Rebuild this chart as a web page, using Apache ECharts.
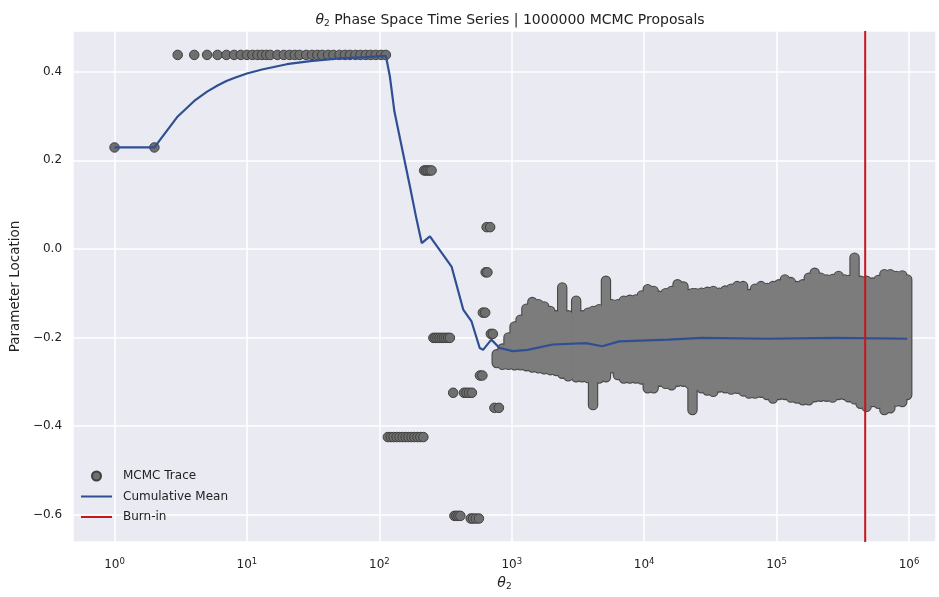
<!DOCTYPE html>
<html><head><meta charset="utf-8">
<script src="https://cdn.jsdelivr.net/npm/echarts@6/dist/echarts.min.js"></script>
<style>html,body{margin:0;padding:0;background:#fff}#c{width:939px;height:597px}</style>
</head><body><div id="c"></div>
<script>
// ---- data ----
const xTickExponents = [0, 1, 2, 3, 4, 5, 6];
const yTickValues = [-0.6, -0.4, -0.2, 0.0, 0.2, 0.4];

// discrete early MCMC trace samples (iteration, value)
const traceX = [1, 2,
  3, 4, 5, 6, 7, 8, 9, 10, 11, 12, 13, 14, 15, 17, 19, 21, 23, 25, 28, 31, 34, 37, 41, 45, 50, 55, 60, 66, 72, 79, 86, 94, 103, 112,
  116, 122, 128, 135, 142, 150, 158, 166, 175, 184, 194, 204, 215,
  218, 225, 232, 240, 248,
  256, 265, 275, 285, 296, 307, 318, 330, 341,
  361,
  369, 382, 395, 409,
  436, 455, 475, 500,
  490, 510, 535, 565,
  575, 600, 605, 630, 635, 655, 646, 687, 695, 720, 740, 800];
const traceY = [0.229, 0.229,
  0.438, 0.438, 0.438, 0.438, 0.438, 0.438, 0.438, 0.438, 0.438, 0.438, 0.438, 0.438, 0.438, 0.438, 0.438, 0.438, 0.438, 0.438, 0.438, 0.438, 0.438, 0.438, 0.438, 0.438, 0.438, 0.438, 0.438, 0.438, 0.438, 0.438, 0.438, 0.438, 0.438, 0.438,
  -0.425, -0.425, -0.425, -0.425, -0.425, -0.425, -0.425, -0.425, -0.425, -0.425, -0.425, -0.425, -0.425,
  0.177, 0.177, 0.177, 0.177, 0.177,
  -0.201, -0.201, -0.201, -0.201, -0.201, -0.201, -0.201, -0.201, -0.201,
  -0.325,
  -0.603, -0.603, -0.603, -0.603,
  -0.325, -0.325, -0.325, -0.325,
  -0.609, -0.609, -0.609, -0.609,
  -0.286, -0.286, -0.144, -0.144, -0.053, -0.053, 0.049, 0.049, -0.192, -0.192, -0.359, -0.359];

// dense part of the trace: per-iteration extreme sample values (envelope of the cloud)
const cloudX = [770, 850, 945, 1050, 1165, 1290, 1430, 1590, 1760, 1955,
  2170, 2405, 2670, 3065, 3400, 3770, 4110, 4560, 5145, 5705,
  6330, 7020, 7790, 8640, 9590, 10640, 11800, 13090, 14520, 16110,
  17870, 19820, 21990, 23170, 24390, 27060, 30010, 33290, 36930, 40970,
  45450, 50420, 55930, 62040, 68820, 76350, 84700, 93960, 104200, 115600,
  128300, 142300, 157800, 175100, 194200, 215500, 239000, 265100, 294100, 326300,
  349900, 388100, 430500, 477500, 529700, 587600, 651900, 723200, 802200, 889900,
  970000];
const cloudHi = [-0.238, -0.225, -0.200, -0.175, -0.160, -0.135, -0.120, -0.125, -0.130, -0.140,
  -0.150, -0.087, -0.150, -0.117, -0.150, -0.144, -0.140, -0.136, -0.072, -0.125,
  -0.125, -0.117, -0.115, -0.114, -0.105, -0.091, -0.095, -0.106, -0.100, -0.095,
  -0.080, -0.085, -0.102, -0.100, -0.100, -0.099, -0.097, -0.095, -0.099, -0.094,
  -0.090, -0.084, -0.084, -0.102, -0.090, -0.084, -0.088, -0.084, -0.080, -0.069,
  -0.075, -0.084, -0.080, -0.065, -0.054, -0.065, -0.069, -0.068, -0.061, -0.069,
  -0.070, -0.020, -0.072, -0.072, -0.076, -0.070, -0.057, -0.057, -0.061, -0.060,
  -0.069];
const cloudLo = [-0.258, -0.262, -0.262, -0.263, -0.263, -0.265, -0.268, -0.270, -0.272, -0.274,
  -0.276, -0.282, -0.288, -0.290, -0.290, -0.292, -0.353, -0.293, -0.290, -0.270,
  -0.285, -0.293, -0.293, -0.293, -0.295, -0.315, -0.315, -0.300, -0.305, -0.308,
  -0.300, -0.300, -0.305, -0.364, -0.310, -0.315, -0.320, -0.323, -0.313, -0.315,
  -0.318, -0.316, -0.322, -0.327, -0.327, -0.325, -0.330, -0.338, -0.330, -0.330,
  -0.336, -0.338, -0.342, -0.342, -0.335, -0.334, -0.334, -0.336, -0.330, -0.330,
  -0.335, -0.340, -0.350, -0.357, -0.346, -0.350, -0.364, -0.360, -0.345, -0.346,
  -0.330];

// cumulative mean
const meanX = [1, 2, 3, 4, 5, 6, 7, 8, 10, 13, 20, 30, 50, 80, 112, 120, 130, 144, 171, 190, 209, 241, 351, 430, 497, 573, 607, 701, 809, 1019, 1320, 2040, 3630, 4830, 6460, 15300, 27200, 86300, 273000, 970000];
const meanY = [0.229, 0.229, 0.299, 0.334, 0.355, 0.369, 0.379, 0.386, 0.396, 0.405, 0.417, 0.424, 0.430, 0.433, 0.436, 0.39, 0.31, 0.246, 0.138, 0.07, 0.013, 0.028, -0.04, -0.137, -0.164, -0.224, -0.228, -0.205, -0.224, -0.231, -0.228, -0.216, -0.213, -0.22, -0.209, -0.205, -0.201, -0.203, -0.201, -0.203];

// burn-in position
const burnIn = 467000;

// axis extents
const xMin = 0.486, xMax = 1.6e6;
const yMin = -0.662, yMax = 0.492;

// ---- chart ----
const FONT = 'DejaVu Sans';
const traceData = traceX.map((x, i) => [x, traceY[i]]);
const cloudData = cloudX.map((x, i) => [x, cloudHi[i], cloudLo[i]]);
const meanData = meanX.map((x, i) => [x, meanY[i]]);
const burnData = [[burnIn, yMin], [burnIn, yMax]];

function capsule(r, color) {
  return function (params, api) {
    const x = api.value(0), hi = api.value(1), lo = api.value(2);
    const p1 = api.coord([x, hi]);
    const p2 = api.coord([x, lo]);
    return {
      type: 'rect',
      shape: { x: p1[0] - r, y: p1[1] - r, width: 2 * r, height: (p2[1] - p1[1]) + 2 * r, r: r },
      style: { fill: color }
    };
  };
}

const chart = echarts.init(document.getElementById('c'), null, { renderer: 'canvas' });
chart.setOption({
  backgroundColor: '#ffffff',
  animation: false,
  textStyle: { fontFamily: FONT },
  title: {
    text: '{t|θ}{s|2}{n| Phase Space Time Series | 1000000 MCMC Proposals}',
    left: 505, top: 7, textAlign: 'center',
    textStyle: {
      fontWeight: 'normal',
      rich: {
        t: { fontFamily: FONT, fontSize: 14, fontStyle: 'italic', fontWeight: 'normal', color: '#222' },
        s: { fontFamily: FONT, fontSize: 9, fontWeight: 'normal', color: '#222', padding: [7, 0, 0, 0] },
        n: { fontFamily: FONT, fontSize: 14, fontWeight: 'normal', color: '#222' }
      }
    }
  },
  grid: { left: 71, right: 0, top: 31, bottom: 55, show: true, backgroundColor: '#EAEAF2', borderWidth: 0 },
  legend: {
    orient: 'vertical', left: 75, top: 465,
    itemWidth: 31, itemHeight: 9, itemGap: 8.5,
    data: [
      { name: 'MCMC Trace', icon: 'circle' },
      { name: 'Cumulative Mean', itemStyle: { opacity: 0 } },
      { name: 'Burn-in', itemStyle: { opacity: 0 } }
    ],
    textStyle: { fontFamily: FONT, fontSize: 12, color: '#222', padding: [0, 0, 0, 6] }
  },
  xAxis: {
    type: 'log', logBase: 10, min: xMin, max: xMax,
    name: '{t|θ}{s|2}', nameLocation: 'middle', nameGap: 30,
    nameTextStyle: {
      rich: {
        t: { fontFamily: FONT, fontSize: 14, fontStyle: 'italic', color: '#222' },
        s: { fontFamily: FONT, fontSize: 9, color: '#222', padding: [7, 0, 0, 0] }
      }
    },
    axisLine: { show: false }, axisTick: { show: false },
    splitLine: { show: true, lineStyle: { color: '#ffffff', width: 1.5 } },
    axisLabel: {
      margin: 15, color: '#222',
      formatter: function (v) {
        const e = Math.log10(v);
        const r = Math.round(e);
        if (Math.abs(e - r) > 1e-6 || xTickExponents.indexOf(r) < 0) return '';
        return '{b|10}{e|' + r + '}';
      },
      rich: {
        b: { fontFamily: FONT, fontSize: 12, color: '#222' },
        e: { fontFamily: FONT, fontSize: 8.5, color: '#222', padding: [0, 0, 7, 0] }
      }
    }
  },
  yAxis: {
    type: 'value', min: yMin, max: yMax,
    name: 'Parameter Location', nameLocation: 'middle', nameGap: 47,
    nameTextStyle: { fontFamily: FONT, fontSize: 13.5, color: '#222' },
    axisLine: { show: false }, axisTick: { show: false },
    splitLine: { show: true, lineStyle: { color: '#ffffff', width: 1.5 } },
    axisLabel: {
      margin: 11, color: '#222', fontFamily: FONT, fontSize: 12,
      formatter: function (v) {
        const r = Math.round(v * 10) / 10;
        for (const t of yTickValues) {
          if (Math.abs(v - t) < 1e-6) return r.toFixed(1).replace('-', '\u2212');
        }
        return '';
      }
    }
  },
  series: [
    {
      name: 'cloudEdge', type: 'custom', renderItem: capsule(5.2, '#474747'),
      data: cloudData, encode: { x: 0, y: [1, 2] }, z: 2, silent: true, clip: true
    },
    {
      name: 'cloudFill', type: 'custom', renderItem: capsule(4.1, '#7c7c7c'),
      data: cloudData, encode: { x: 0, y: [1, 2] }, z: 3, silent: true, clip: true
    },
    {
      name: 'MCMC Trace', type: 'scatter', data: traceData, symbolSize: 9.5, z: 4,
      itemStyle: { color: '#6f6f6f', borderColor: '#3f3f3f', borderWidth: 1, opacity: 1 }
    },
    {
      name: 'Cumulative Mean', type: 'line', data: meanData, symbol: 'none', smooth: false, z: 5,
      lineStyle: { color: '#2f4f93', width: 2.2 }, itemStyle: { color: '#2f4f93' }
    },
    {
      name: 'Burn-in', type: 'line', data: burnData, symbol: 'none', z: 6,
      lineStyle: { color: '#c8161b', width: 2 }, itemStyle: { color: '#c8161b' }
    }
  ]
});
</script>
</body></html>
